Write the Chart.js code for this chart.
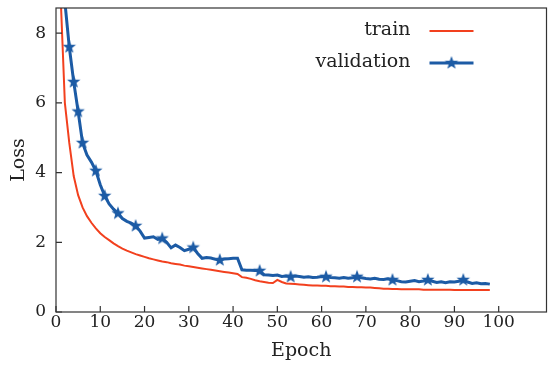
<!DOCTYPE html>
<html>
<head>
<meta charset="utf-8">
<script src="https://cdn.jsdelivr.net/npm/chart.js@4.4.1/dist/chart.umd.min.js"></script>
<style>
  html, body { margin: 0; padding: 0; background: #fff; }
  #wrap { width: 548px; height: 366px; }
</style>
</head>
<body>
<div id="wrap"><canvas id="lossChart"></canvas></div>
<script>
// Data
const epochs = [
  1, 2, 3, 4, 5, 6, 7, 8, 9, 10, 11, 12, 13, 14, 15, 16, 17, 18, 19, 20,
  21, 22, 23, 24, 25, 26, 27, 28, 29, 30, 31, 32, 33, 34, 35, 36, 37, 38, 39, 40,
  41, 42, 43, 44, 45, 46, 47, 48, 49, 50, 51, 52, 53, 54, 55, 56, 57, 58, 59, 60,
  61, 62, 63, 64, 65, 66, 67, 68, 69, 70, 71, 72, 73, 74, 75, 76, 77, 78, 79, 80,
  81, 82, 83, 84, 85, 86, 87, 88, 89, 90, 91, 92, 93, 94, 95, 96, 97, 98
];
const trainLoss = [
  9.2, 6.0, 4.85, 3.9, 3.35, 3.0, 2.75, 2.56, 2.4, 2.26, 2.15, 2.06, 1.97, 1.89, 1.82, 1.76, 1.71, 1.66, 1.62, 1.58,
  1.54, 1.51, 1.48, 1.45, 1.43, 1.40, 1.38, 1.36, 1.33, 1.31, 1.29, 1.27, 1.25, 1.23, 1.21, 1.19, 1.17, 1.15, 1.13, 1.11,
  1.09, 1.00, 0.98, 0.95, 0.91, 0.88, 0.86, 0.84, 0.83, 0.92, 0.86, 0.82, 0.81, 0.80, 0.79, 0.78, 0.77, 0.76, 0.76, 0.75,
  0.75, 0.74, 0.74, 0.73, 0.73, 0.72, 0.72, 0.71, 0.71, 0.70, 0.70, 0.69, 0.68, 0.67, 0.67, 0.66, 0.66, 0.65, 0.65, 0.65,
  0.65, 0.65, 0.64, 0.64, 0.64, 0.64, 0.64, 0.64, 0.64, 0.63, 0.63, 0.63, 0.63, 0.63, 0.63, 0.63, 0.63, 0.63
];
const valLoss = [
  11.0, 8.9, 7.6, 6.6, 5.75, 4.85, 4.5, 4.3, 4.05, 3.65, 3.33, 3.1, 2.95, 2.83, 2.68, 2.6, 2.55, 2.47, 2.32, 2.12,
  2.14, 2.16, 2.08, 2.11, 2.0, 1.84, 1.92, 1.85, 1.76, 1.80, 1.85, 1.68, 1.54, 1.56, 1.55, 1.51, 1.49, 1.52, 1.53, 1.54,
  1.54, 1.21, 1.20, 1.20, 1.19, 1.18, 1.07, 1.06, 1.05, 1.06, 1.02, 1.03, 1.01, 1.03, 1.02, 1.00, 1.01, 0.99, 1.00, 1.02,
  1.01, 0.99, 0.98, 0.97, 0.99, 0.97, 0.98, 1.01, 0.98, 0.96, 0.95, 0.97, 0.94, 0.93, 0.95, 0.92, 0.90, 0.87, 0.86, 0.88,
  0.90, 0.87, 0.89, 0.92, 0.88, 0.85, 0.87, 0.84, 0.87, 0.86, 0.88, 0.92, 0.86, 0.82, 0.84, 0.81, 0.82, 0.80
];
const starEpochs = [3, 4, 5, 6, 9, 11, 14, 18, 24, 31, 37, 46, 53, 61, 68, 76, 84, 92];
const xTicks = [0, 10, 20, 30, 40, 50, 60, 70, 80, 90, 100];
const yTicks = [0, 2, 4, 6, 8];

const RED = '#f2401e';
const BLUE = '#1c5ba5';
const AXIS = '#333';
const SERIF = "'DejaVu Serif', serif";

// filled five-point star used as the marker
function makeStar(color, outer, inner) {
  const size = Math.ceil(outer * 2 + 2);
  const c = document.createElement('canvas');
  c.width = size; c.height = size;
  const g = c.getContext('2d');
  g.translate(size / 2, size / 2);
  g.beginPath();
  for (let i = 0; i < 10; i++) {
    const r = i % 2 === 0 ? outer : inner;
    const a = -Math.PI / 2 + i * Math.PI / 5;
    g.lineTo(r * Math.cos(a), r * Math.sin(a));
  }
  g.closePath();
  g.fillStyle = color;
  g.fill();
  return c;
}
const starImg = makeStar(BLUE, 7, 2.9);

const framePlugin = {
  id: 'frame',
  afterDraw(chart) {
    const { ctx, chartArea: a, scales: { x, y } } = chart;
    ctx.save();
    ctx.strokeStyle = AXIS;
    ctx.lineWidth = 1.2;
    ctx.strokeRect(a.left, a.top, a.right - a.left, a.bottom - a.top);
    ctx.beginPath();
    x.ticks.forEach(t => {
      const px = x.getPixelForValue(t.value);
      ctx.moveTo(px, a.bottom);
      ctx.lineTo(px, a.bottom - 6);
    });
    y.ticks.forEach(t => {
      const py = y.getPixelForValue(t.value);
      ctx.moveTo(a.left, py);
      ctx.lineTo(a.left + 6, py);
    });
    ctx.stroke();
    ctx.restore();
  }
};

// legend with the label on the left of the line sample
const legendPlugin = {
  id: 'innerLegend',
  afterDraw(chart) {
    const { ctx, chartArea: a } = chart;
    const textRight = a.right - 136;
    const lineL = a.right - 117, lineR = a.right - 73;
    ctx.save();
    ctx.font = '19px ' + SERIF;
    ctx.textAlign = 'right';
    ctx.textBaseline = 'middle';
    chart.data.datasets.forEach((ds, i) => {
      const yy = a.top + 22 + i * 32;
      ctx.fillStyle = '#222';
      ctx.fillText(ds.label, textRight, yy);
      ctx.strokeStyle = ds.borderColor;
      ctx.lineWidth = ds.borderWidth;
      ctx.beginPath();
      ctx.moveTo(lineL, yy + 1);
      ctx.lineTo(lineR, yy + 1);
      ctx.stroke();
      if (ds.markers) {
        ctx.drawImage(starImg, (lineL + lineR) / 2 - starImg.width / 2, yy + 1 - starImg.height / 2);
      }
    });
    ctx.restore();
  }
};

new Chart(document.getElementById('lossChart'), {
  type: 'line',
  data: {
    datasets: [
      {
        label: 'train',
        data: epochs.map((e, i) => ({ x: e, y: trainLoss[i] })),
        borderColor: RED,
        borderWidth: 2,
        pointRadius: 0,
        tension: 0
      },
      {
        label: 'validation',
        markers: true,
        data: epochs.map((e, i) => ({ x: e, y: valLoss[i] })),
        borderColor: BLUE,
        borderWidth: 3,
        pointStyle: starImg,
        pointRadius: c => starEpochs.includes(c.raw && c.raw.x) ? 7 : 0,
        tension: 0
      }
    ]
  },
  options: {
    responsive: true,
    maintainAspectRatio: false,
    animation: false,
    layout: { padding: { top: 8, right: 1.5, left: 0, bottom: 0 } },
    plugins: {
      legend: { display: false },
      tooltip: { enabled: false }
    },
    scales: {
      x: {
        type: 'linear',
        min: 0,
        max: 110.8,
        afterBuildTicks: s => { s.ticks = xTicks.map(v => ({ value: v })); },
        afterFit: s => { s.height = 54; s.paddingLeft = 0; s.paddingRight = 0; },
        grid: { display: false, drawTicks: false },
        border: { display: false },
        ticks: { font: { family: SERIF, size: 17 }, color: '#222', padding: 0, maxRotation: 0, autoSkip: false },
        title: { display: true, text: 'Epoch', font: { family: SERIF, size: 19 }, color: '#222', padding: { top: 0, bottom: 4 } }
      },
      y: {
        min: 0,
        max: 8.72,
        afterBuildTicks: s => { s.ticks = yTicks.map(v => ({ value: v })); },
        afterFit: s => { s.width = 56; s.paddingTop = 0; s.paddingBottom = 0; },
        grid: { display: false, drawTicks: false },
        border: { display: false },
        ticks: { font: { family: SERIF, size: 17 }, color: '#222', padding: 10 },
        title: { display: true, text: 'Loss', font: { family: SERIF, size: 19 }, color: '#222', padding: { top: 8, bottom: 0 } }
      }
    }
  },
  plugins: [framePlugin, legendPlugin]
});
</script>
</body>
</html>
